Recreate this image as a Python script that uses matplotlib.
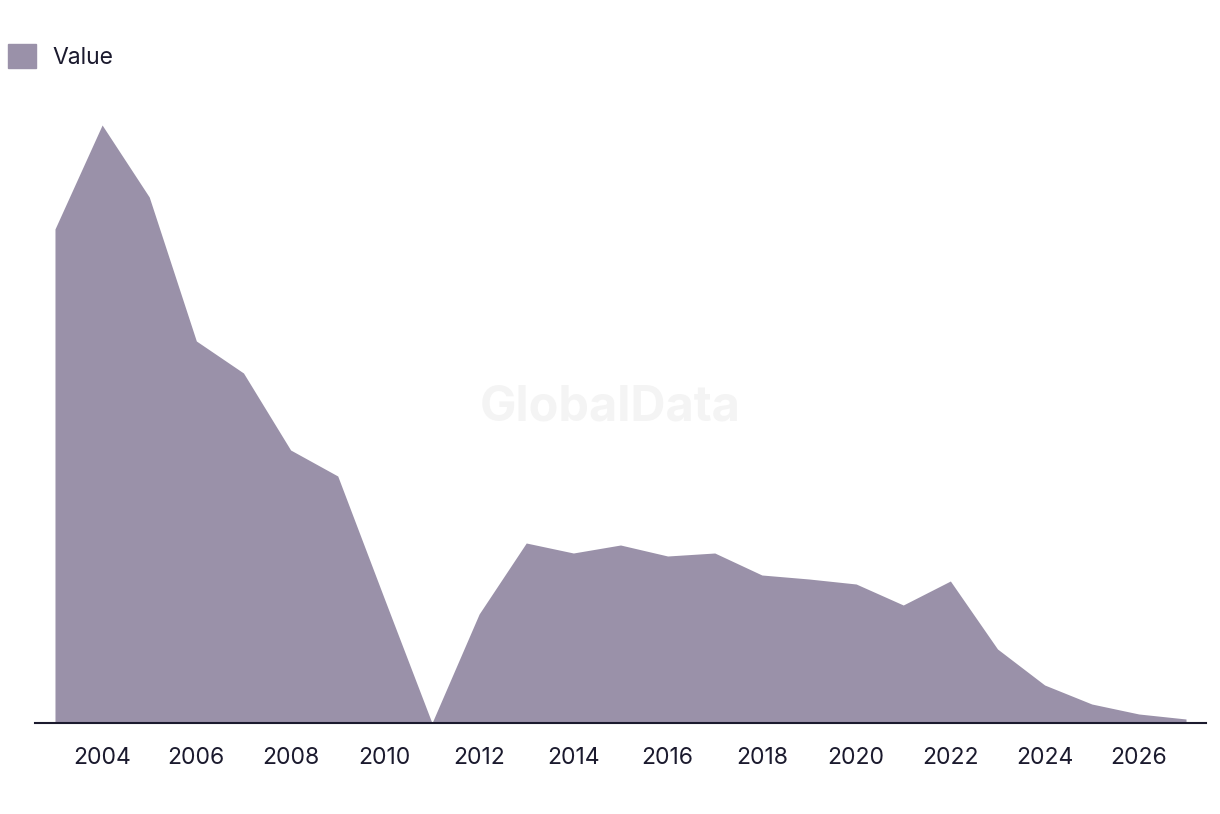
import matplotlib.pyplot as plt
from matplotlib.patches import Patch

years = list(range(2003, 2028))
values = [494, 598, 526, 382, 350, 273, 247, 123, 0, 109, 180, 170, 178,
          167, 170, 148, 144, 139, 118, 142, 74, 38, 19, 9, 4]
tick_years = list(range(2004, 2027, 2))

fill_color = "#9a91a9"
axis_color = "#1b1a2e"

plt.rcParams['font.family'] = ['Inter', 'DejaVu Sans']

fig = plt.figure(figsize=(12.2, 8.14), dpi=100)
ax = fig.add_axes([35 / 1220, 91 / 814, 1171 / 1220, 621 / 814])

ax.fill_between(years, values, 0, color=fill_color, linewidth=0)
ax.set_xlim(2002.576, 2027.424)
ax.set_ylim(0, 621)

for side in ["top", "right", "left"]:
    ax.spines[side].set_visible(False)
ax.spines["bottom"].set_color(axis_color)
ax.spines["bottom"].set_linewidth(1.5)
ax.set_yticks([])
ax.set_xticks(tick_years)
ax.set_xticklabels([str(y) for y in tick_years], fontsize=16.5, color=axis_color)
ax.tick_params(axis="x", length=0, pad=17)

# watermark
fig.text(0.5, 0.499, "GlobalData", fontsize=35, fontweight="bold",
         color="#f4f4f4", ha="center", va="center", zorder=0)

fig.legend(handles=[Patch(color=fill_color, label="Value")],
           loc="upper left", bbox_to_anchor=(8 / 1220, 1 - 44 / 814),
           frameon=False, borderaxespad=0, borderpad=0,
           fontsize=16.5, handlelength=1.22, handleheight=1.22,
           handletextpad=0.7, labelcolor=axis_color)

fig.savefig("out.png", dpi=100)
